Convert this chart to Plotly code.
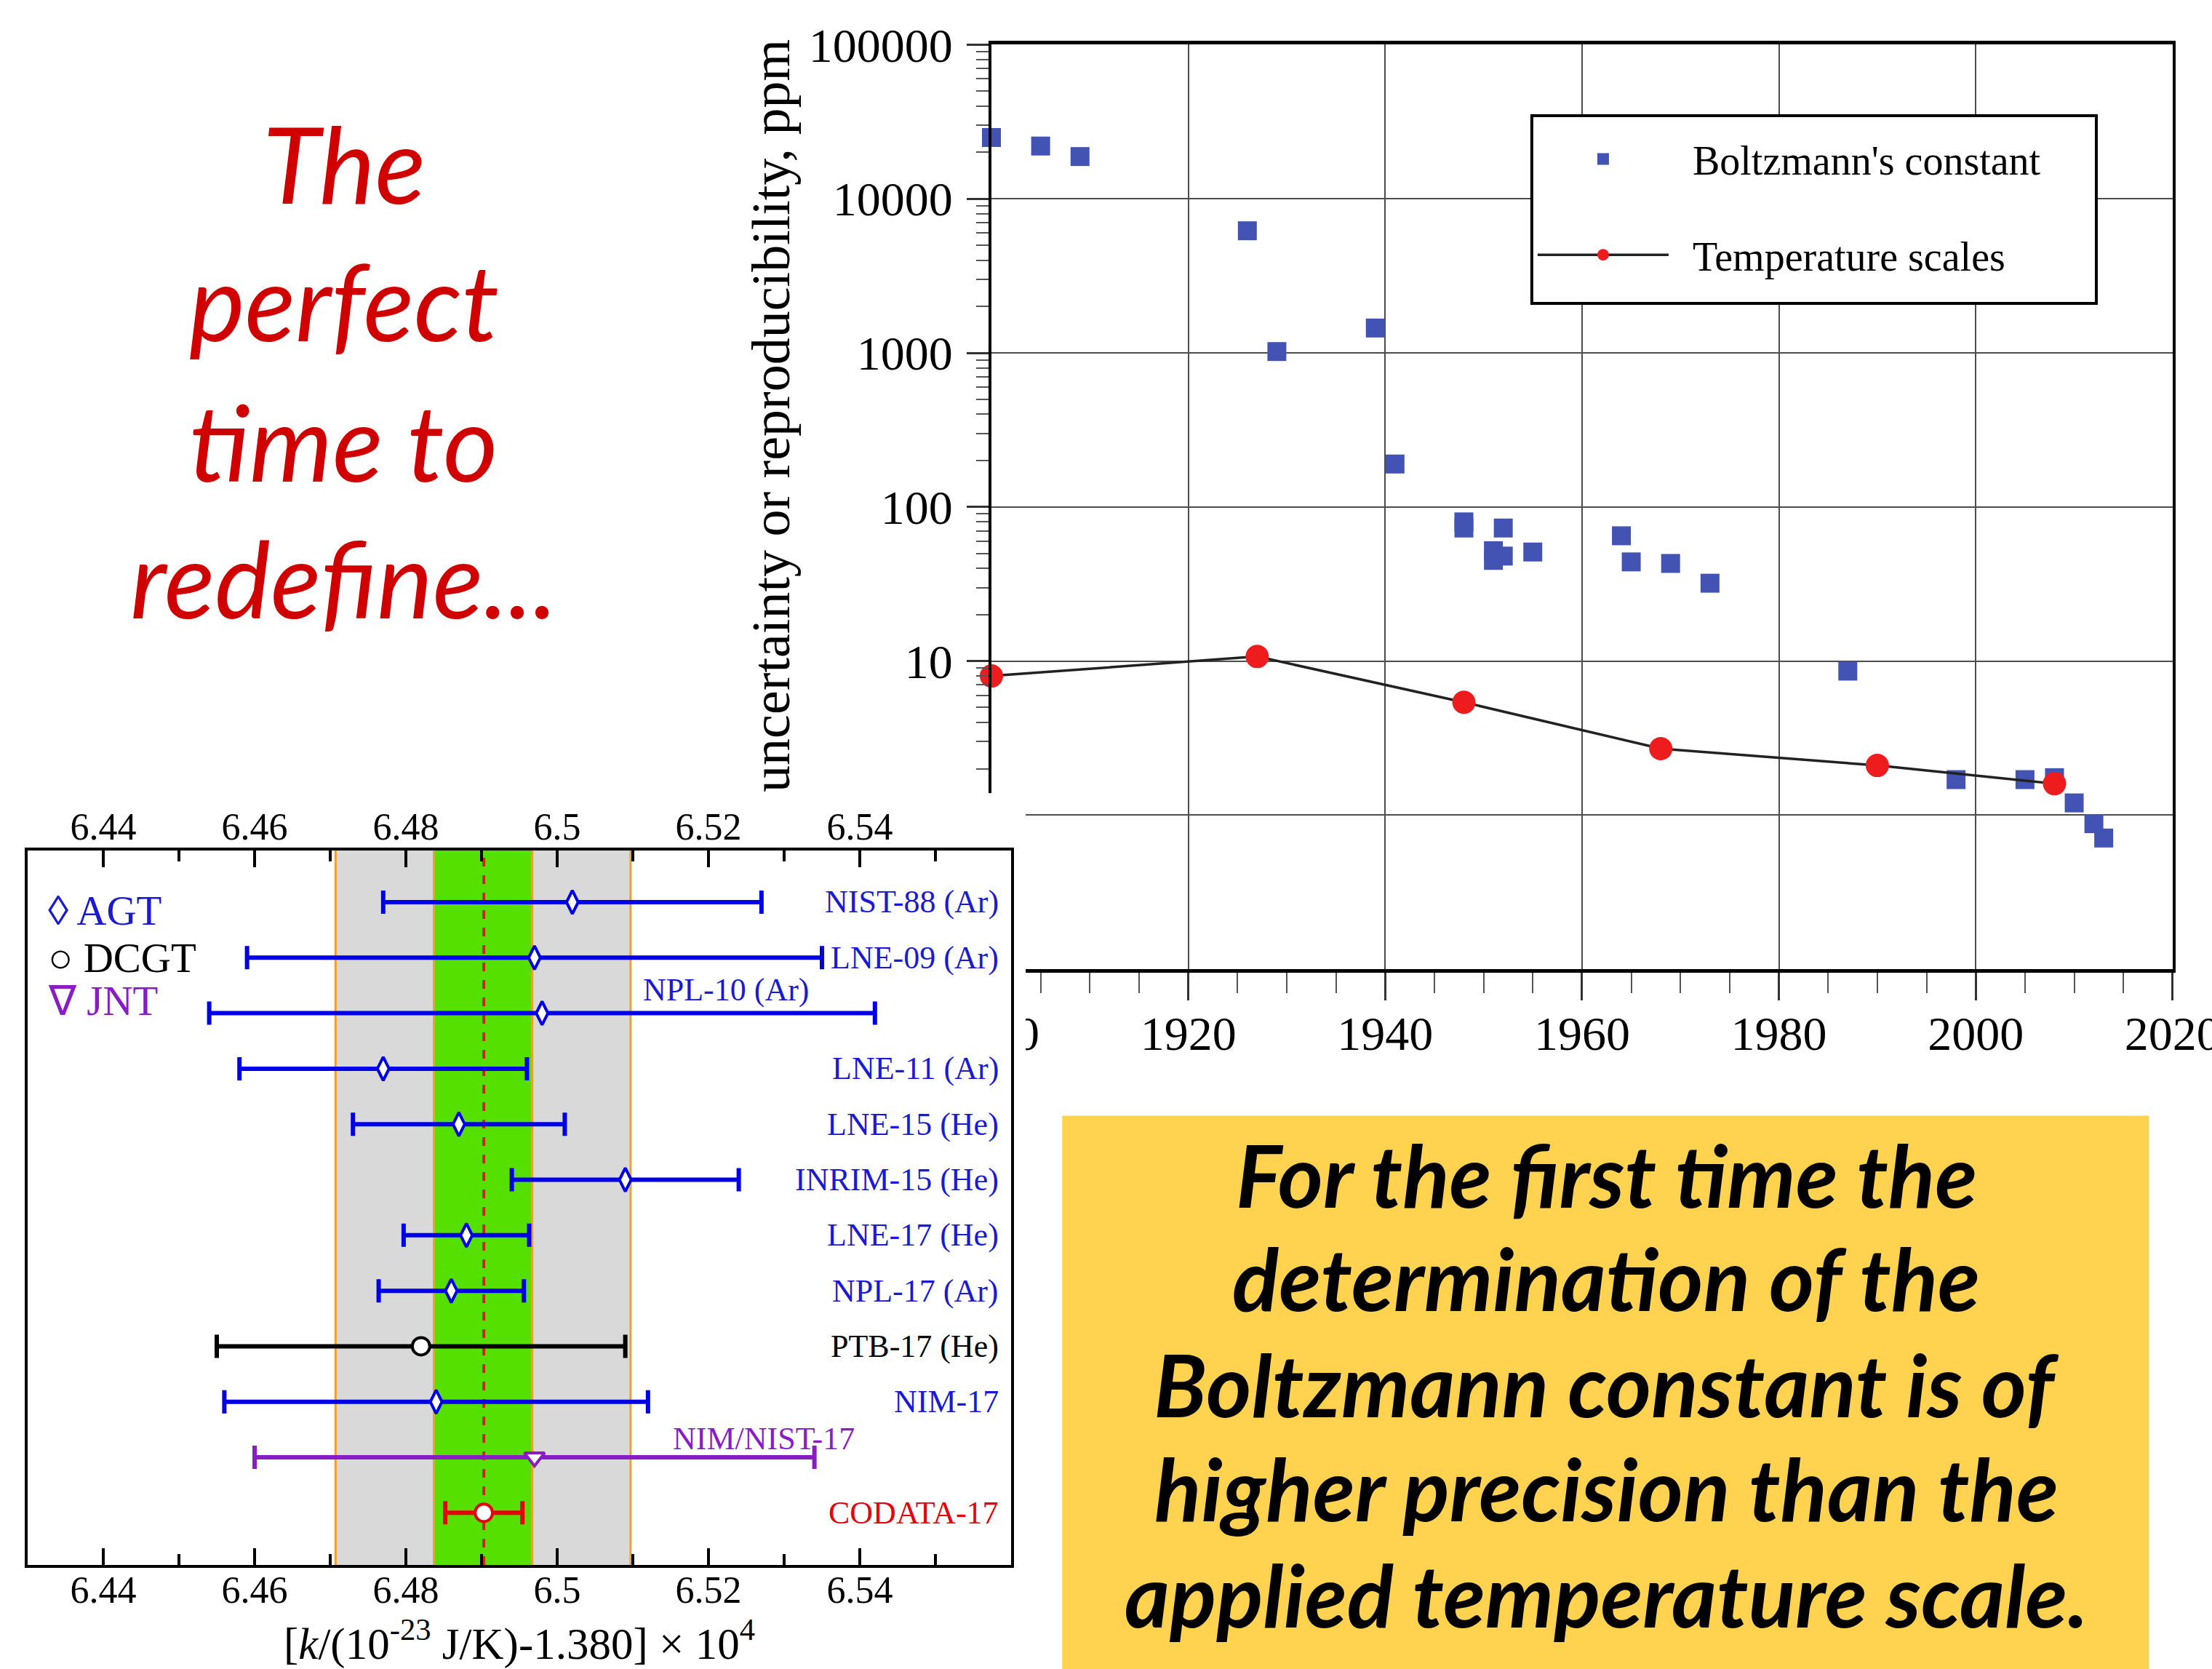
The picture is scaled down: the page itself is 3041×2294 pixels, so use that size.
import plotly.graph_objects as go

# ---------------- Log plot (uncertainty history) ----------------
boltz_years = [1900, 1905, 1909, 1926, 1929, 1939, 1941, 1948, 1948, 1951, 1951,
               1952, 1952, 1955, 1964, 1965, 1969, 1973, 1987, 1998, 2005, 2008,
               2010, 2012, 2013]
boltz_ppm = [25000, 22000, 18800, 6200, 1020, 1450, 190, 80, 73, 52, 45,
             73, 48, 51, 65, 44, 43, 32, 8.6, 1.7, 1.7, 1.75,
             1.2, 0.88, 0.71]
temp_years = [1900, 1927, 1948, 1968, 1990, 2008]
temp_ppm = [8.0, 10.7, 5.4, 2.7, 2.1, 1.6]

log_tick_vals = [0.1, 1, 10, 100, 1000, 10000, 100000]
log_tick_text = ["0.1", "1", "10", "100", "1000", "10000", "100000"]
year_tick_vals = [1900, 1920, 1940, 1960, 1980, 2000, 2020]

# ---------------- Boltzmann constant determinations ----------------
labels = ["NIST-88 (Ar)", "LNE-09 (Ar)", "NPL-10 (Ar)", "LNE-11 (Ar)",
          "LNE-15 (He)", "INRIM-15 (He)", "LNE-17 (He)", "NPL-17 (Ar)",
          "PTB-17 (He)", "NIM-17", "NIM/NIST-17", "CODATA-17"]
methods = ["AGT", "AGT", "AGT", "AGT", "AGT", "AGT", "AGT", "AGT",
           "DCGT", "AGT", "JNT", "CODATA"]
k_values = [6.502, 6.497, 6.498, 6.477, 6.487, 6.509, 6.488, 6.486,
            6.482, 6.484, 6.497, 6.4903]
k_unc = [0.025, 0.038, 0.044, 0.019, 0.014, 0.015, 0.0083, 0.0096,
         0.027, 0.028, 0.037, 0.0051]
rows = list(range(1, len(labels) + 1))
# label anchor (None = right edge of the frame) and raise (px)
label_x = [None, None, 6.5336, None, None, None, None, None,
           None, None, 6.5395, None]
label_raise = [0, 0, 32, 0, 0, 0, 0, 0, 0, 0, 26, 0]

k_tick_vals = [6.44, 6.46, 6.48, 6.50, 6.52, 6.54]
k_tick_text = ["6.44", "6.46", "6.48", "6.5", "6.52", "6.54"]
k_range = [6.43, 6.56]
row_range = [12.94, 0.07]
gray_band = [6.4707, 6.5097]
green_band = [6.4837, 6.4967]
codata_value = 6.4903

legend_items = [("◊ AGT", "AGT"), ("○ DCGT", "DCGT"), ("∇ JNT", "JNT")]

red_lines = ["The", "perfect", "time to", "redefine..."]
yellow_lines = ["For the first time the", "determination of the",
                "Boltzmann constant is of", "higher precision than the",
                "applied temperature scale."]

# ---------------- styles ----------------
BLUE = "#0000e6"
PURPLE = "#8a1cc8"
RED = "#e8000b"
method_style = {
    "AGT": dict(symbol="diamond-tall", size=23, color=BLUE),
    "DCGT": dict(symbol="circle", size=24, color="black"),
    "JNT": dict(symbol="triangle-down", size=24, color=PURPLE),
    "CODATA": dict(symbol="circle", size=24, color=RED),
}
label_color = {"AGT": "#1a1ad6", "DCGT": "black", "JNT": PURPLE, "CODATA": RED}
SERIF = "Liberation Serif"
NB = "\u00a0"

fig = go.Figure()

# log plot traces
fig.add_trace(go.Scatter(
    x=boltz_years, y=boltz_ppm, mode="markers",
    name=NB * 2 + "Boltzmann's constant",
    marker=dict(symbol="square", size=26, color="#4353b3"),
    cliponaxis=False, xaxis="x", yaxis="y", legendgroup="a"))
fig.add_trace(go.Scatter(
    x=temp_years, y=temp_ppm, mode="lines+markers",
    name=NB * 2 + "Temperature scales",
    line=dict(color="#222222", width=3.5),
    marker=dict(symbol="circle", size=32, color="#ee1c1c"),
    cliponaxis=False, xaxis="x", yaxis="y", legendgroup="b"))

# cover subplot (hides the lower-left part of the log plot)
fig.add_trace(go.Scatter(x=[], y=[], xaxis="x2", yaxis="y2", showlegend=False,
                         hoverinfo="skip"))

# error-bar plot traces
for m in ["AGT", "DCGT", "JNT", "CODATA"]:
    idx = [i for i, mm in enumerate(methods) if mm == m]
    st = method_style[m]
    fig.add_trace(go.Scatter(
        x=[k_values[i] for i in idx], y=[rows[i] for i in idx],
        mode="markers", showlegend=False,
        error_x=dict(type="data", array=[k_unc[i] for i in idx],
                     color=st["color"], thickness=6, width=16),
        marker=dict(symbol=st["symbol"], size=st["size"], color="white",
                    line=dict(color=st["color"], width=4)),
        xaxis="x3", yaxis="y3"))
fig.add_trace(go.Scatter(x=[], y=[], xaxis="x4", yaxis="y3", showlegend=False,
                         hoverinfo="skip"))

shapes = []
for band, col in [(gray_band, "#d9d9d9"), (green_band, "#55e000")]:
    shapes.append(dict(type="rect", xref="x3", yref="y3", layer="below",
                       x0=band[0], x1=band[1], y0=row_range[0], y1=row_range[1],
                       fillcolor=col, line=dict(width=0)))
for xv in gray_band + green_band:
    shapes.append(dict(type="line", xref="x3", yref="y3", layer="below",
                       x0=xv, x1=xv, y0=row_range[0], y1=row_range[1],
                       line=dict(color="#f0a030", width=3)))
shapes.append(dict(type="line", xref="x3", yref="y3", layer="below",
                   x0=codata_value, x1=codata_value, y0=row_range[0], y1=row_range[1],
                   line=dict(color="#d42020", width=4, dash="dash")))
# yellow box
shapes.append(dict(type="rect", xref="paper", yref="paper", layer="below",
                   x0=0.4802, x1=0.9715, y0=0, y1=0.3315,
                   fillcolor="#ffd250", line=dict(width=0)))
# legend frame of the log plot
shapes.append(dict(type="rect", xref="paper", yref="paper", layer="above",
                   x0=0.6925, x1=0.9477, y0=0.8182, y1=0.9307,
                   fillcolor="white", line=dict(color="black", width=4)))

annotations = []
for i, lab in enumerate(labels):
    col = label_color[methods[i]]
    if label_x[i] is None:
        annotations.append(dict(xref="x3 domain", yref="y3", x=0.989, y=rows[i],
                                xanchor="right", yanchor="middle", text=lab,
                                showarrow=False,
                                font=dict(family=SERIF, size=44, color=col)))
    else:
        annotations.append(dict(xref="x3", yref="y3", x=label_x[i], y=rows[i],
                                xanchor="right", yanchor="middle", text=lab,
                                yshift=label_raise[i], showarrow=False,
                                font=dict(family=SERIF, size=44, color=col)))
leg_y = [0.4545, 0.4262, 0.4004]
for (txt, m), yy in zip(legend_items, leg_y):
    annotations.append(dict(xref="paper", yref="paper", x=0.021, y=yy,
                            xanchor="left", yanchor="middle", text=txt,
                            showarrow=False,
                            font=dict(family=SERIF, size=57, color=label_color[m])))
annotations.append(dict(xref="paper", yref="paper", x=0.2348, y=0.0172,
                        xanchor="center", yanchor="middle", showarrow=False,
                        text="[<i>k</i>/(10<sup>-23</sup> J/K)-1.380] × 10<sup>4</sup>",
                        font=dict(family=SERIF, size=61, color="black")))
annotations.append(dict(xref="paper", yref="paper", x=0.3488, y=0.7510,
                        xanchor="center", yanchor="middle", textangle=-90,
                        showarrow=False, text="uncertainty or reproducibility, ppm",
                        font=dict(family=SERIF, size=74, color="black")))
# red title, one line at a time
red_y = [0.9025, 0.8200, 0.7360, 0.6540]
for txt, yy in zip(red_lines, red_y):
    annotations.append(dict(xref="paper", yref="paper", x=0.1555, y=yy,
                            xanchor="center", yanchor="middle", showarrow=False,
                            text="<i>" + txt + "</i>",
                            font=dict(family="Lato", size=145, color="#d10000")))
# yellow text, one line at a time
yel_y = [0.2965, 0.2345, 0.1710, 0.1085, 0.0450]
for txt, yy in zip(yellow_lines, yel_y):
    annotations.append(dict(xref="paper", yref="paper", x=0.7262, y=yy,
                            xanchor="center", yanchor="middle", showarrow=False,
                            text="<b><i>" + txt + "</i></b>",
                            font=dict(family="Lato", size=119, color="black")))

tickfont_big = dict(family=SERIF, size=66, color="black")
tickfont_k = dict(family=SERIF, size=52, color="black")

fig.update_layout(
    width=3041, height=2294, template="none",
    margin=dict(l=0, r=0, t=0, b=0, pad=0),
    paper_bgcolor="white", plot_bgcolor="white",
    showlegend=True,
    legend=dict(x=0.6935, y=0.9235, xanchor="left", yanchor="top",
                bgcolor="rgba(0,0,0,0)", borderwidth=0,
                font=dict(family=SERIF, size=56, color="black"),
                itemwidth=180, tracegroupgap=56),
    xaxis=dict(domain=[0.4482, 0.9822], anchor="y", range=[1900, 2020],
               tickmode="array", tickvals=year_tick_vals,
               ticks="outside", ticklen=38, tickwidth=2.5, tickcolor="#333",
               showgrid=True, gridcolor="#4d4d4d", gridwidth=2,
               showline=True, linewidth=5, linecolor="black", mirror=True,
               zeroline=False, tickfont=tickfont_big, ticklabelstandoff=-11,
               ticklabeloverflow="allow",
               minor=dict(dtick=5, tick0=1900, ticks="outside", ticklen=28,
                          tickwidth=2, tickcolor="#555", showgrid=False)),
    yaxis=dict(domain=[0.4193, 0.9732], anchor="x", type="log", range=[-1, 5],
               tickmode="array", tickvals=log_tick_vals, ticktext=log_tick_text,
               ticks="outside", ticklen=30, tickwidth=2.5, tickcolor="#333",
               showgrid=True, gridcolor="#4d4d4d", gridwidth=2,
               showline=True, linewidth=4, linecolor="black", mirror=True,
               zeroline=False, tickfont=tickfont_big, ticklabelstandoff=6,
               ticklabeloverflow="allow",
               minor=dict(dtick="D1", ticks="outside", ticklen=17, tickwidth=2,
                          tickcolor="#555", showgrid=False)),
    xaxis2=dict(domain=[0, 0.4637], anchor="y2", range=[0, 1], visible=False),
    yaxis2=dict(domain=[0, 0.5248], anchor="x2", range=[0, 1], visible=False),
    xaxis3=dict(domain=[0.0125, 0.4571], anchor="y3", range=k_range,
                tickmode="array", tickvals=k_tick_vals, ticktext=k_tick_text,
                ticks="inside", ticklen=23, tickwidth=4, tickcolor="black",
                showline=True, linewidth=4, linecolor="black", mirror=True,
                showgrid=False, zeroline=False, tickfont=tickfont_k,
                ticklabelstandoff=-14,
                minor=dict(dtick=0.01, tick0=6.43, ticks="inside", ticklen=15,
                           tickwidth=4, tickcolor="black", showgrid=False)),
    xaxis4=dict(overlaying="x3", anchor="y3", side="top", range=k_range,
                tickmode="array", tickvals=k_tick_vals, ticktext=k_tick_text,
                ticks="inside", ticklen=23, tickwidth=4, tickcolor="black",
                showline=False, showgrid=False, zeroline=False,
                tickfont=tickfont_k, ticklabelstandoff=4,
                minor=dict(dtick=0.01, tick0=6.43, ticks="inside", ticklen=15,
                           tickwidth=4, tickcolor="black", showgrid=False)),
    yaxis3=dict(domain=[0.0623, 0.4904], anchor="x3", range=row_range,
                showline=True, linewidth=4, linecolor="black", mirror=True,
                ticks="", showticklabels=False, showgrid=False, zeroline=False),
    shapes=shapes,
    annotations=annotations,
)

fig.write_html("out.html", config={"displayModeBar": False},
               post_script="document.body.style.margin='0';"
                           "document.body.style.overflow='hidden';")
